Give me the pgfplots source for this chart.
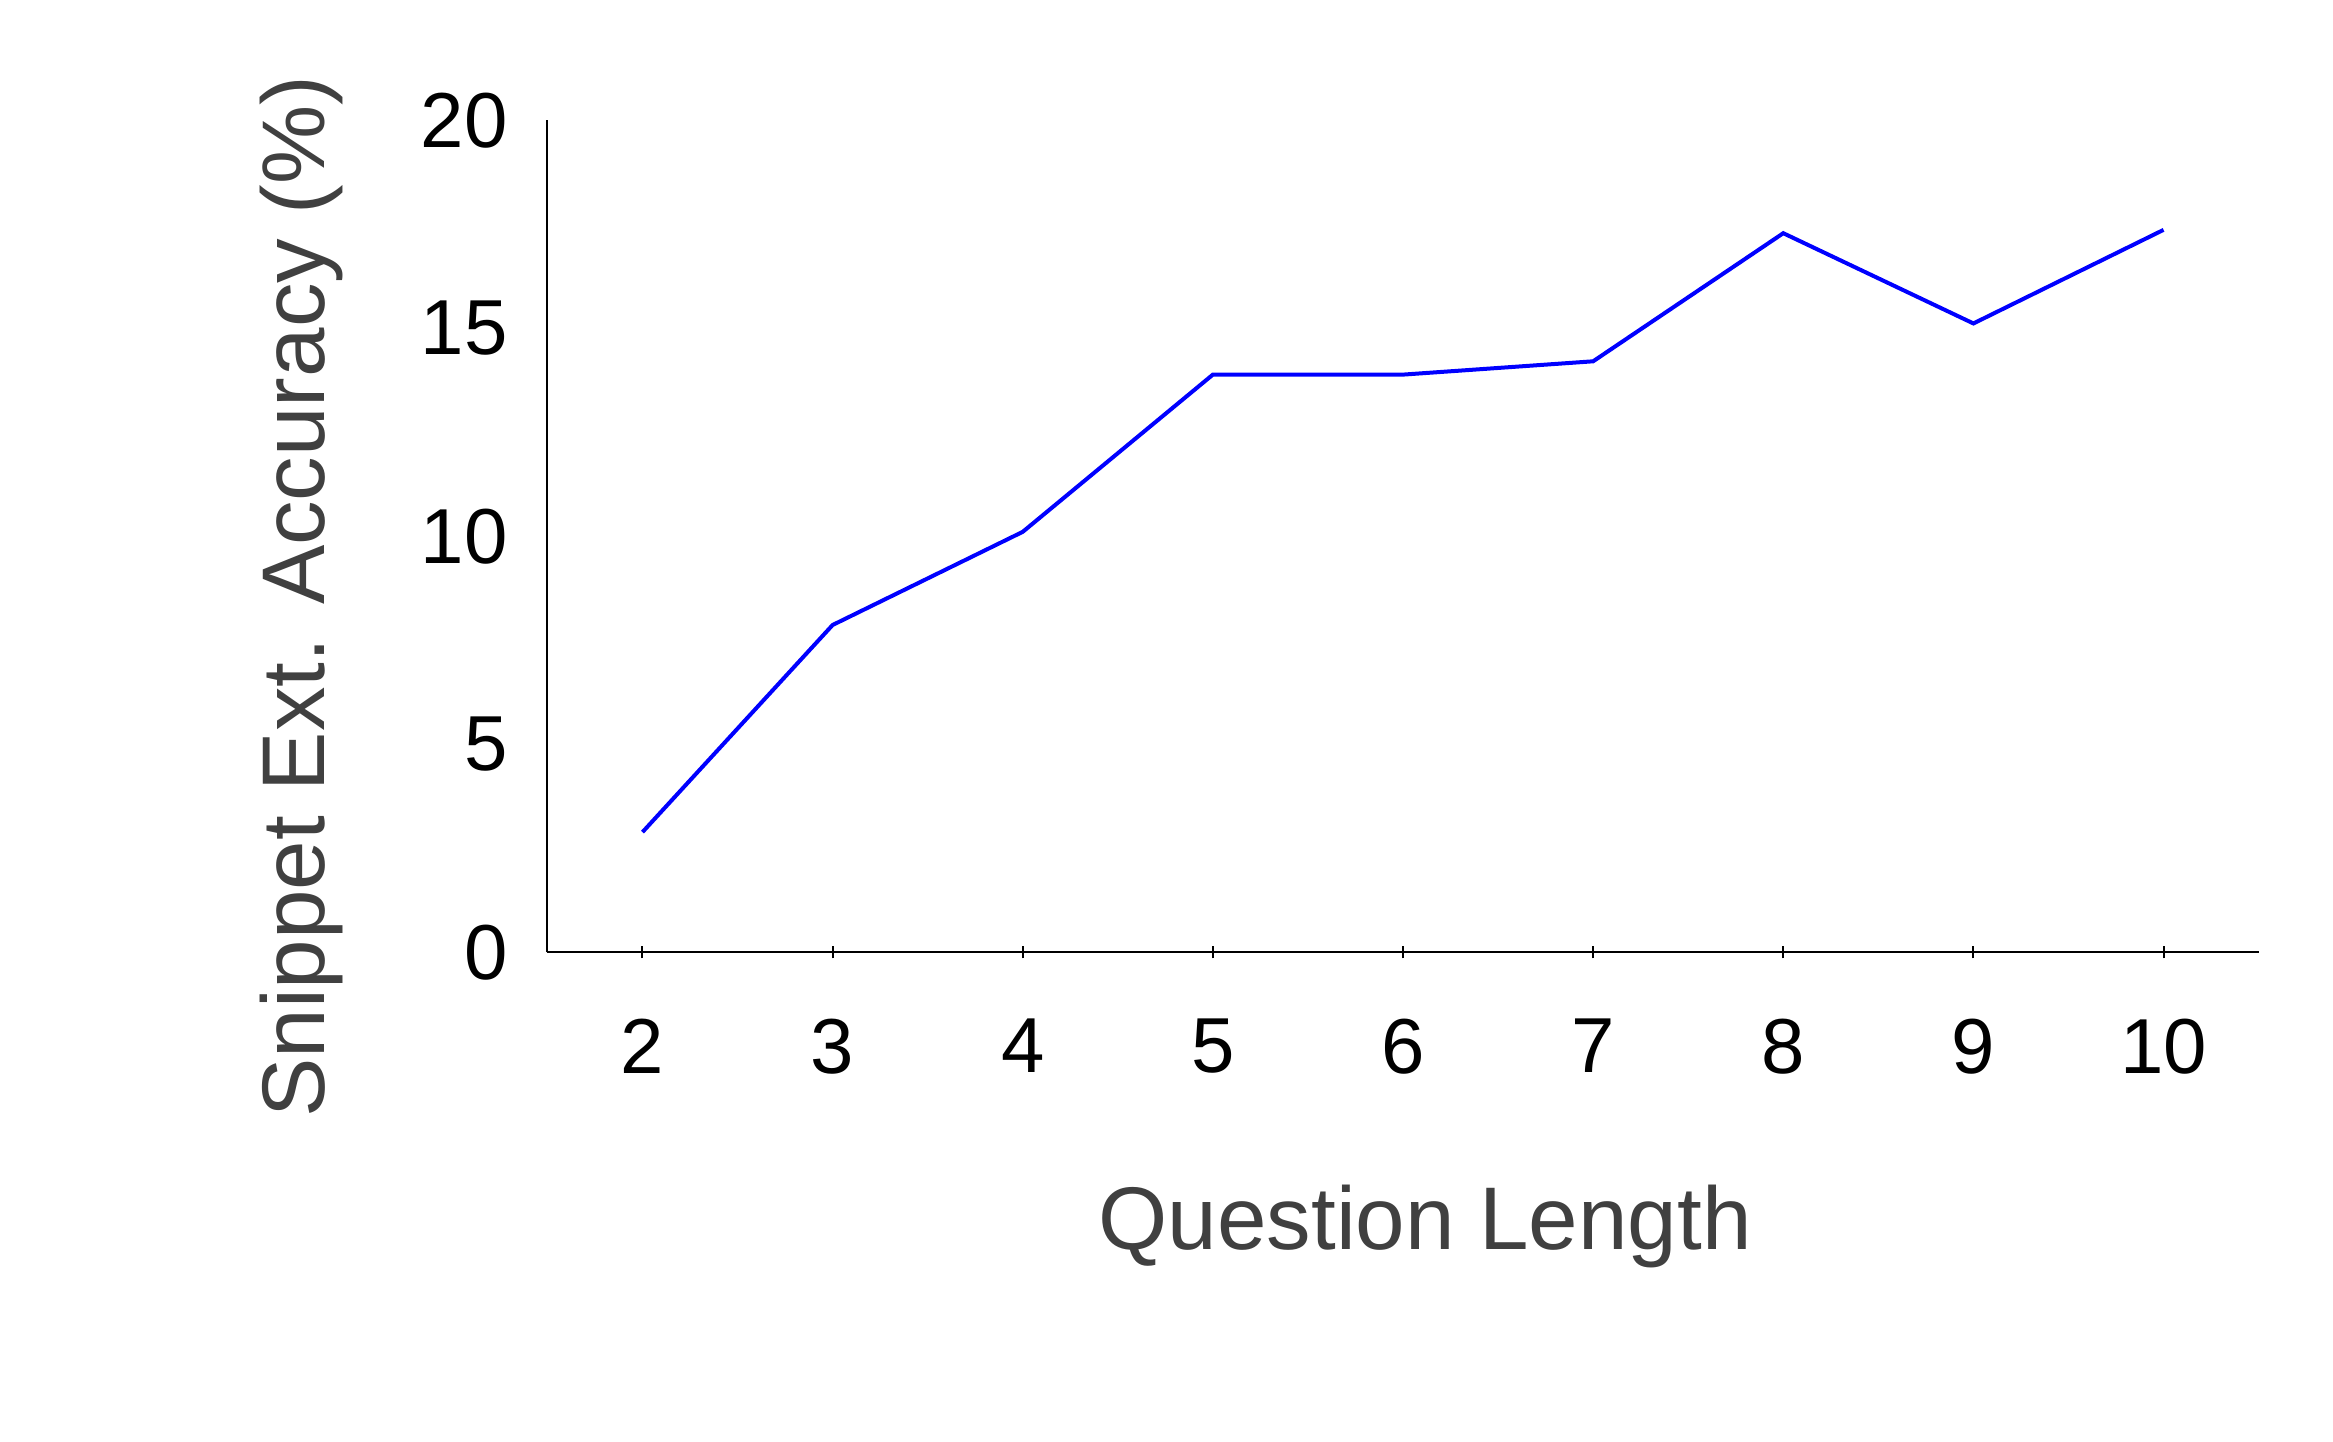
\documentclass[border=0pt]{standalone}
\usepackage{pgfplots}
\pgfplotsset{compat=1.18}
\usepackage{fontspec}
\setmainfont{Liberation Sans}
\definecolor{labgray}{HTML}{404040}
\begin{document}
\begin{tikzpicture}
\begin{axis}[
  at={(0,0)}, anchor=south west,
  scale only axis,
  width=342.3pt, height=166.4pt,
  xmin=1.5, xmax=10.5, ymin=0, ymax=20,
  axis lines*=left,
  axis line style={black, line width=0.4pt},
  xtick={2,3,4,5,6,7,8,9,10},
  ytick={0,5,10,15,20},
  tick align=center,
  major tick length=2.4pt,
  xtick style={black, line width=0.4pt},
  ytick style={draw=none},
  /pgf/number format/assume math mode=true,
  tick label style={font=\fontsize{15.6}{18}\selectfont, text=black},
  xticklabel style={anchor=north, inner sep=0pt, yshift=-12.0pt},
  yticklabel style={anchor=east, inner sep=0pt, xshift=-6.6pt},
  xlabel={Question Length},
  ylabel={Snippet Ext. Accuracy (\%)},
  label style={font=\fontsize{17.8}{20}\selectfont, text=labgray},
  xlabel style={at={(rel axis cs:0.513,0)}, anchor=base, yshift=-59.5pt, inner sep=0pt},
  ylabel style={at={(rel axis cs:0,0.4275)}, anchor=center, yshift=49.1pt, inner sep=0pt},
  clip=false,
]
\addplot[blue, line width=0.8pt, mark=none] coordinates {
  (2,2.89) (3,7.87) (4,10.11) (5,13.89) (6,13.89) (7,14.21) (8,17.29) (9,15.12) (10,17.37)
};
\end{axis}
\pgfresetboundingbox
\path[use as bounding box] (-109.5pt,-97.9pt) rectangle (357.17pt,190.5pt);
\end{tikzpicture}
\end{document}
